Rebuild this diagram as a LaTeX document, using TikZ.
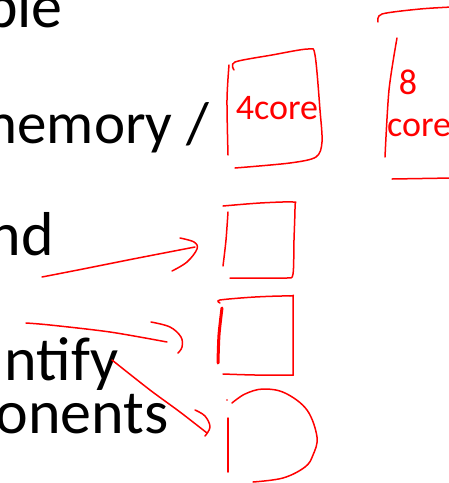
\documentclass[tikz,border=0pt]{standalone}
\usepackage{fontspec}
\setmainfont{Carlito}
\usepackage{tikz}

\tikzset{
	slide/.style={inner sep=0pt,text=black,font=\fontsize{62}{66}\selectfont,anchor=base east},
	hand/.style={inner sep=0pt,text=red,font=\fontsize{36}{40}\selectfont},
	ink/.style={red,line width=1.5pt,line cap=round,line join=round},
}

\begin{document}
\begin{tikzpicture}[x=1pt,y=-1pt]
			\useasboundingbox (0,0) rectangle (449,483);
			\clip (0,0) rectangle (449,483);
			\node[slide] (ble) at (63,27) {ble};
			\node[slide,font=\fontsize{59}{62}\selectfont] (mem) at (209,143) {memory /};
			\node[slide] (nd) at (54,255) {nd};
			\node[slide] (ntfy) at (119,380) {ntify};
			\node[slide] (onts) at (169,433) {onents};
			\draw[ink] plot[smooth,tension=0.5] coordinates {(229,65) (227,100) (228,155)};
			\draw[ink] plot[smooth,tension=0.5] coordinates {(234,70) (235,62) (272,55) (308,49) (315,55) (320,110) (322,142) (316,157) (290,163) (235,168)};
			\node[hand] (four) at (277,108) {4core};
			\draw[ink] plot[smooth,tension=0.5] coordinates {(397,38) (389,90) (385,157)};
			\draw[ink] plot[smooth,tension=0.5] coordinates {(378,22) (382,14) (420,9) (452,7)};
			\draw[ink] (392,179) -- (452,178);
			\node[hand] (eight) at (408,82) {8};
			\node[hand,anchor=west] (core) at (387,128) {core};
			\draw[ink] plot[smooth,tension=0.5] coordinates {(228,212) (226,240) (223,266)};
			\draw[ink] plot[smooth,tension=0.5] coordinates {(223,206) (260,203) (293,202) (295,206) (294,240) (293,274) (287,278) (260,278) (230,278)};
			\draw[ink] plot[smooth,tension=0.5] coordinates {(42,277) (83,269) (133,259) (195,247)};
			\draw[ink] plot[smooth,tension=0.6] coordinates {(180,238) (194,242) (197,249) (187,262) (172,271)};
			\draw[ink] plot[smooth,tension=0.5] coordinates {(220,303) (220,300) (255,297) (290,296) (293,299) (293,340) (293,372) (290,375) (255,375) (223,374)};
			\draw[ink,line width=3pt] plot[smooth,tension=0.5] coordinates {(222,308) (219,335) (218,363)};
			\draw[ink] plot[smooth,tension=0.5] coordinates {(26,323) (50,325) (110,332) (167,342)};
			\draw[ink] plot[smooth,tension=0.6] coordinates {(151,322) (170,327) (181,337) (182,347) (178,353)};
			\draw[ink] (228,418) -- (228,472);
			\fill[red] (227,400) circle (0.8);
			\draw[ink] plot[smooth,tension=0.6] coordinates {(232,403) (245,394) (263,389) (285,393) (307,410) (317,437) (313,455) (305,467) (283,478) (253,482)};
			\draw[ink] plot[smooth,tension=0.5] coordinates {(112,360) (150,390) (180,412) (207,433)};
			\draw[ink] plot[smooth,tension=0.6] coordinates {(195,410) (205,416) (210,427) (205,436)};
		\end{tikzpicture}
\end{document}
